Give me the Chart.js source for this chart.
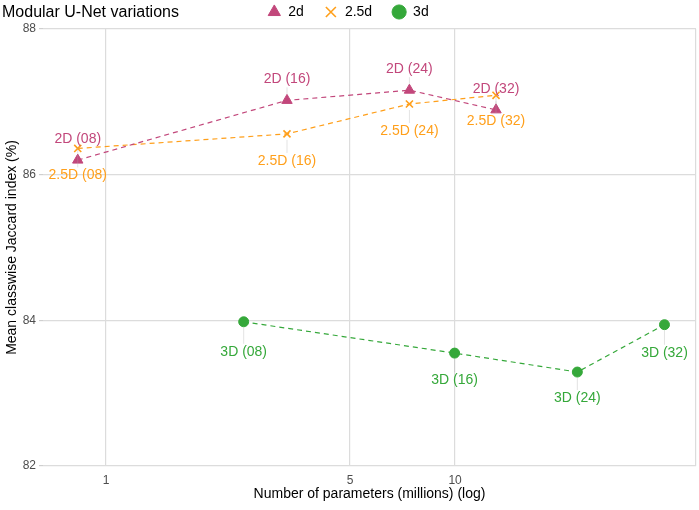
<!DOCTYPE html>
<html>
<head>
<meta charset="utf-8">
<script src="https://cdn.jsdelivr.net/npm/chart.js@4"></script>
<style>
  html, body { margin: 0; padding: 0; background: #fff; }
  #wrap { width: 699px; height: 510px; position: relative; }
</style>
</head>
<body>
<div id="wrap"><canvas id="chartUnet"></canvas></div>
<script>
// Datos (eje x en millones de parámetros, escala log)
const seriesNames = ['2d', '2.5d', '3d'];
const params2d  = [0.83, 3.30, 7.40, 13.1];
const params25d = [0.83, 3.30, 7.40, 13.1];
const params3d  = [2.48, 9.97, 22.4, 39.8];
const jaccard2d  = [86.20, 87.02, 87.16, 86.89];
const jaccard25d = [86.36, 86.56, 86.97, 87.09];
const jaccard3d  = [83.98, 83.55, 83.29, 83.94];
const labels2d  = ['2D (08)', '2D (16)', '2D (24)', '2D (32)'];
const labels25d = ['2.5D (08)', '2.5D (16)', '2.5D (24)', '2.5D (32)'];
const labels3d  = ['3D (08)', '3D (16)', '3D (24)', '3D (32)'];
const xTicks = [1, 5, 10];
const yTicks = [82, 84, 86, 88];

// estilo
const FONT = "'Liberation Sans', Arial, Helvetica, sans-serif";
const colors = ['#C2477B', '#FF9F1A', '#35A83A'];
const pointStyles = ['triangle', 'crossRot', 'circle'];
const labelDy = [            // desplazamiento vertical de etiquetas (px)
  [-21, -21, -21, -21],
  [27, 27, 27, 26],
  [30, 27, 26, 28]
];

const xs = [params2d, params25d, params3d];
const ys = [jaccard2d, jaccard25d, jaccard3d];
const pointLabels = [labels2d, labels25d, labels3d];

const datasets = seriesNames.map((name, i) => ({
  label: name,
  data: xs[i].map((x, j) => ({ x: x, y: ys[i][j] })),
  borderColor: colors[i],
  backgroundColor: colors[i],
  borderWidth: 1.2,
  borderDash: [5, 4],
  pointStyle: pointStyles[i],
  pointRadius: i === 0 ? 6 : 5,
  pointBorderWidth: i === 1 ? 1.6 : 1,
  pointBackgroundColor: colors[i],
  pointBorderColor: colors[i],
  fill: false,
  tension: 0
}));

// Etiquetas con segmentos (tipo ggrepel)
const pointLabelPlugin = {
  id: 'pointLabels',
  afterDatasetsDraw(chart) {
    const ctx = chart.ctx;
    ctx.save();
    ctx.font = '14px ' + FONT;
    ctx.textAlign = 'center';
    ctx.textBaseline = 'middle';
    chart.data.datasets.forEach((ds, i) => {
      const meta = chart.getDatasetMeta(i);
      meta.data.forEach((pt, j) => {
        const dy = labelDy[i][j];
        const s = Math.sign(dy);
        ctx.strokeStyle = 'rgba(170,170,170,0.55)';
        ctx.lineWidth = 0.6;
        ctx.setLineDash([]);
        ctx.beginPath();
        ctx.moveTo(pt.x, pt.y + s * 6);
        ctx.lineTo(pt.x, pt.y + dy - s * 8);
        ctx.stroke();
        ctx.fillStyle = colors[i];
        ctx.fillText(pointLabels[i][j], pt.x, pt.y + dy);
      });
    });
    ctx.restore();
  }
};

const titlePlugin = {
  id: 'leftTitle',
  afterDraw(chart) {
    const ctx = chart.ctx;
    ctx.save();
    ctx.font = '16px ' + FONT;
    ctx.fillStyle = '#000';
    ctx.textAlign = 'left';
    ctx.textBaseline = 'middle';
    ctx.fillText('Modular U-Net variations', 2, 13);
    ctx.restore();
  }
};

new Chart(document.getElementById('chartUnet'), {
  type: 'line',
  data: { datasets: datasets },
  plugins: [pointLabelPlugin, titlePlugin],
  options: {
    responsive: true,
    maintainAspectRatio: false,
    animation: false,
    layout: { autoPadding: false, padding: { top: -15, right: 3, left: 0, bottom: 0 } },
    plugins: {
      tooltip: { enabled: false },
      legend: {
        position: 'top',
        align: 'center',
        labels: {
          usePointStyle: true,
          boxHeight: 10,
          padding: 20,
          color: '#000',
          font: { family: FONT, size: 14 },
          generateLabels(chart) {
            return chart.data.datasets.map((ds, i) => ({
              text: ds.label,
              fillStyle: ds.backgroundColor,
              strokeStyle: ds.borderColor,
              lineWidth: i === 1 ? 1.6 : 1,
              lineDash: [],
              pointStyle: ds.pointStyle,
              fontColor: '#000',
              datasetIndex: i
            }));
          }
        }
      }
    },
    scales: {
      x: {
        type: 'logarithmic',
        min: 0.66,
        max: 49,
        afterBuildTicks(scale) {
          scale.ticks = xTicks.concat([49]).map(v => ({ value: v }));
        },
        afterFit(scale) {
          scale.height = 44;
          scale.paddingLeft = 0;
          scale.paddingRight = 0;
        },
        ticks: {
          autoSkip: false,
          maxRotation: 0,
          padding: 7,
          color: '#4d4d4d',
          font: { family: FONT, size: 12 },
          callback: (v) => xTicks.includes(v) ? String(v) : ''
        },
        grid: { color: '#dcdcdc', lineWidth: 1.2, drawTicks: false },
        border: { display: false },
        title: {
          display: true,
          text: 'Number of parameters (millions) (log)',
          color: '#000',
          font: { family: FONT, size: 14 },
          padding: { top: 4, bottom: 7 }
        }
      },
      y: {
        min: 82,
        max: 88,
        afterBuildTicks(scale) {
          scale.ticks = yTicks.map(v => ({ value: v }));
        },
        afterFit(scale) { scale.width = 43; },
        ticks: {
          padding: 3,
          color: '#4d4d4d',
          font: { family: FONT, size: 12 }
        },
        grid: { color: '#dcdcdc', lineWidth: 1.2, tickLength: 4, tickColor: '#cfcfcf' },
        border: { display: false },
        title: {
          display: true,
          text: 'Mean classwise Jaccard index (%)',
          color: '#000',
          font: { family: FONT, size: 14 },
          padding: { top: 4, bottom: 0 }
        }
      }
    }
  }
});
</script>
</body>
</html>
